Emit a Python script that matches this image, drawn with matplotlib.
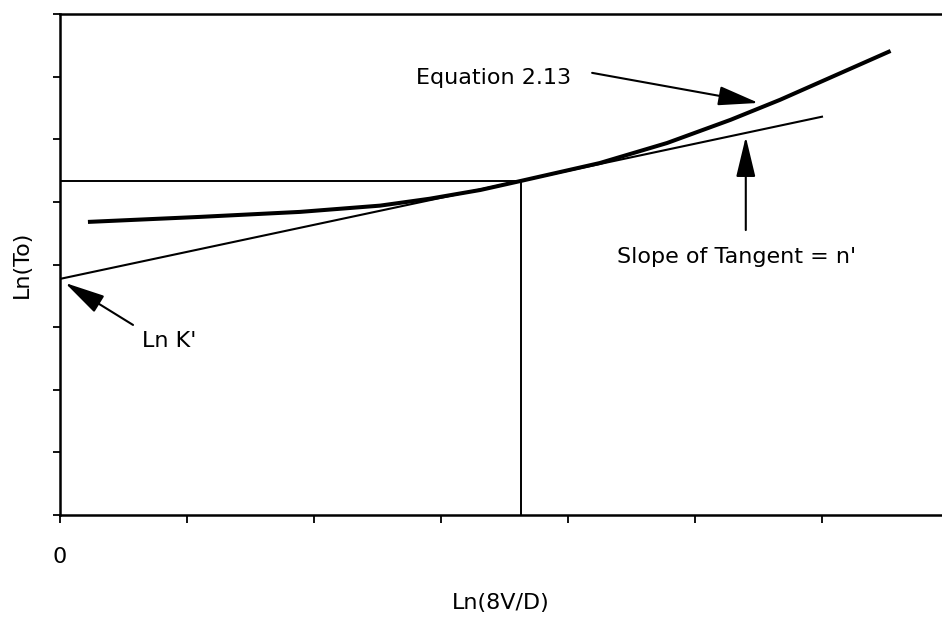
import matplotlib
matplotlib.use("Agg")
import matplotlib.pyplot as plt

# flow curve, Ln(To) against Ln(8V/D)
curve_x = [0.22, 1.10, 1.89, 2.52, 2.91, 3.31, 3.63, 4.25, 4.78, 5.28, 5.67, 6.54]
curve_y = [4.68, 4.76, 4.84, 4.94, 5.05, 5.19, 5.335, 5.62, 5.94, 6.31, 6.63, 7.41]

# tangent drawn through the chosen point
tangent_x = [0.0, 6.0]
tangent_y = [3.77, 6.36]
point_x = 3.63
point_y = 5.335

x_ticks = [0, 1, 2, 3, 4, 5, 6]
x_tick_labels = ["0", "", "", "", "", "", ""]
y_ticks = [0, 1, 2, 3, 4, 5, 6, 7, 8]

FS = 16

fig = plt.figure(figsize=(9.42, 6.18), dpi=100)
ax = fig.add_axes([60 / 942, 103 / 618, 882 / 942, 501 / 618])

ax.plot(curve_x, curve_y, color="black", lw=2.9, solid_capstyle="butt")
ax.plot(tangent_x, tangent_y, color="black", lw=1.5)
ax.plot([0, point_x], [point_y, point_y], color="black", lw=1.4)
ax.plot([point_x, point_x], [0, point_y], color="black", lw=1.4)

ax.set_xlim(0, 6.945)
ax.set_ylim(0, 8)

for s in ["top", "bottom", "left"]:
    ax.spines[s].set_linewidth(1.8)
ax.spines["right"].set_visible(False)

ax.set_xticks(x_ticks)
ax.set_xticklabels(x_tick_labels, fontsize=FS)
ax.set_yticks(y_ticks)
ax.set_yticklabels([])
ax.tick_params(axis="x", direction="out", length=6, width=1.3, pad=17)
ax.tick_params(axis="y", direction="out", length=5, width=1.3)

ax.set_xlabel("Ln(8V/D)", fontsize=FS)
ax.xaxis.set_label_coords(0.5, -0.155)
ax.set_ylabel("Ln(To)", fontsize=FS)
ax.yaxis.set_label_coords(-0.032, 0.5)

arrow = dict(arrowstyle="-|>,head_length=2.5,head_width=0.6", mutation_scale=10,
             color="black", lw=1.5, shrinkA=0, shrinkB=0)

ax.text(2.80, 6.98, "Equation 2.13", fontsize=FS, va="center", ha="left")
ax.annotate("", xy=(5.50, 6.58), xytext=(4.19, 7.06), arrowprops=arrow)

ax.text(4.386, 4.12, "Slope of Tangent = n'", fontsize=FS, va="center", ha="left")
ax.annotate("", xy=(5.40, 6.04), xytext=(5.40, 4.55), arrowprops=arrow)

ax.text(0.646, 2.78, "Ln K'", fontsize=FS, va="center", ha="left")
ax.annotate("", xy=(0.04, 3.706), xytext=(0.575, 3.035), arrowprops=arrow)

fig.savefig("out.png", dpi=100)
